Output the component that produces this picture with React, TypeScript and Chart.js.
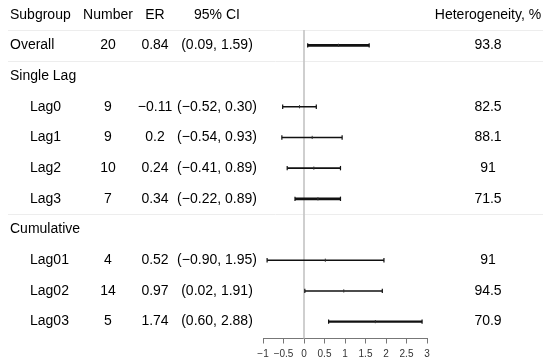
import React, { useEffect, useRef } from "react";
import { Chart, registerables } from "chart.js";

Chart.register(...registerables);

// ---------- data ----------
const headers = ["Subgroup", "Number", "ER", "95% CI", "Heterogeneity, %"];
const subgroups = ["Overall", "Single Lag", "Lag0", "Lag1", "Lag2", "Lag3", "Cumulative", "Lag01", "Lag02", "Lag03"];
const indentLevel = [0, 0, 1, 1, 1, 1, 0, 1, 1, 1];
const isGroupHeading = [false, true, false, false, false, false, true, false, false, false];
const counts: (number | null)[] = [20, null, 9, 9, 10, 7, null, 4, 14, 5];
const estimates: (number | null)[] = [0.84, null, -0.11, 0.2, 0.24, 0.34, null, 0.52, 0.97, 1.74];
const ciLower: (number | null)[] = [0.09, null, -0.52, -0.54, -0.41, -0.22, null, -0.9, 0.02, 0.6];
const ciUpper: (number | null)[] = [1.59, null, 0.3, 0.93, 0.89, 0.89, null, 1.95, 1.91, 2.88];
const heterogeneity: (number | null)[] = [93.8, null, 82.5, 88.1, 91, 71.5, null, 91, 94.5, 70.9];
const xTicks = [-1, -0.5, 0, 0.5, 1, 1.5, 2, 2.5, 3];

// ---------- style ----------
const FONT = '"Liberation Sans", Arial, Helvetica, sans-serif';
const lineWeights = [2.9, 0, 1.6, 1.6, 1.6, 2.9, 0, 1.5, 1.5, 2.3];
const COL_LABEL = 10;
const COL_INDENT = 30;
const COL_NUMBER = 108;
const COL_ER = 155;
const COL_CI = 217;
const COL_HET = 488;

const minus = (s: string) => s.replace(/-/g, "\u2212");
const fmt = (v: number, d?: number) => minus(d === undefined ? String(v) : v.toFixed(d));

const tablePlugin = {
  id: "forestTable",
  beforeDatasetsDraw(chart: any) {
    const { ctx } = chart;
    const y = chart.scales.y;
    const seps = [0.5];
    isGroupHeading.forEach((h, i) => {
      if (h) seps.push(i + 0.5);
    });
    ctx.save();
    ctx.strokeStyle = "#ededed";
    ctx.lineWidth = 1;
    seps.forEach((r) => {
      const py = Math.round(y.getPixelForValue(r)) + 0.5;
      ctx.beginPath();
      ctx.moveTo(8, py);
      ctx.lineTo(543, py);
      ctx.stroke();
    });
    ctx.restore();
  },
  afterDraw(chart: any) {
    const { ctx } = chart;
    const y = chart.scales.y;
    ctx.save();
    ctx.fillStyle = "#000";
    ctx.font = `14px ${FONT}`;
    ctx.textBaseline = "middle";
    const put = (t: string, x: number, py: number, align: CanvasTextAlign) => {
      ctx.textAlign = align;
      ctx.fillText(t, x, py);
    };
    const hy = y.getPixelForValue(0);
    put(headers[0], COL_LABEL, hy, "left");
    put(headers[1], COL_NUMBER, hy, "center");
    put(headers[2], COL_ER, hy, "center");
    put(headers[3], COL_CI, hy, "center");
    put(headers[4], COL_HET, hy, "center");
    subgroups.forEach((label, i) => {
      const py = y.getPixelForValue(i + 1);
      put(label, indentLevel[i] ? COL_INDENT : COL_LABEL, py, "left");
      const n = counts[i];
      if (n !== null) put(String(n), COL_NUMBER, py, "center");
      const e = estimates[i];
      if (e !== null) put(fmt(e), COL_ER, py, "center");
      const lo = ciLower[i];
      const hi = ciUpper[i];
      if (lo !== null && hi !== null) put(`(${fmt(lo, 2)}, ${fmt(hi, 2)})`, COL_CI, py, "center");
      const h = heterogeneity[i];
      if (h !== null) put(String(h), COL_HET, py, "center");
    });
    ctx.restore();
  },
};

export default function App() {
  const ref = useRef<HTMLCanvasElement | null>(null);

  useEffect(() => {
    if (!ref.current) return;
    const datasets: any[] = [];
    // zero reference line
    datasets.push({
      data: [
        { x: 0, y: 0.5 },
        { x: 0, y: 10.55 },
      ],
      borderColor: "#c4c4c4",
      borderWidth: 1.6,
      pointRadius: 0,
      order: 20,
      clip: false,
    });
    subgroups.forEach((_, i) => {
      const lo = ciLower[i];
      const hi = ciUpper[i];
      if (lo === null || hi === null) return;
      datasets.push({
        data: [
          { x: lo, y: i + 1 },
          { x: hi, y: i + 1 },
        ],
        borderColor: "#111",
        borderWidth: lineWeights[i],
        pointStyle: "line",
        pointRotation: 90,
        pointRadius: 2.2,
        pointBorderWidth: 1.2,
        pointBorderColor: "#111",
        order: 5,
        clip: false,
      });
    });
    datasets.push({
      data: estimates
        .map((e, i) => (e === null ? null : { x: e, y: i + 1 }))
        .filter((p) => p !== null),
      showLine: false,
      pointStyle: "line",
      pointRotation: 90,
      pointRadius: 1.6,
      pointBorderWidth: 1,
      pointBorderColor: "#333",
      order: 1,
      clip: false,
    });

    const chart = new Chart(ref.current, {
      type: "line",
      data: { datasets },
      options: {
        animation: false,
        responsive: false,
        maintainAspectRatio: false,
        events: [],
        layout: { padding: { left: 263, right: 123, top: 30, bottom: -1.5 } },
        plugins: { legend: { display: false }, tooltip: { enabled: false } },
        scales: {
          x: {
            type: "linear",
            min: -1,
            max: 3,
            afterBuildTicks: (s: any) => {
              s.ticks = xTicks.map((v) => ({ value: v }));
            },
            ticks: {
              autoSkip: false,
              maxRotation: 0,
              padding: 5,
              color: "#333",
              font: { family: FONT, size: 10 },
              callback: (v: any) => fmt(Number(v)),
            },
            grid: {
              drawOnChartArea: false,
              drawTicks: true,
              tickLength: 5,
              color: "#777",
              lineWidth: 1,
            },
            border: { display: true, color: "#777", width: 1 },
          },
          y: {
            type: "linear",
            reverse: true,
            min: 0.5,
            max: 10.55,
            display: false,
          },
        },
      },
      plugins: [tablePlugin],
    });
    return () => chart.destroy();
  }, []);

  return (
    <div style={{ position: "absolute", left: 0, top: 0, width: 550, height: 364, background: "#fff" }}>
      <canvas ref={ref} width={550} height={364} style={{ display: "block" }} />
    </div>
  );
}
